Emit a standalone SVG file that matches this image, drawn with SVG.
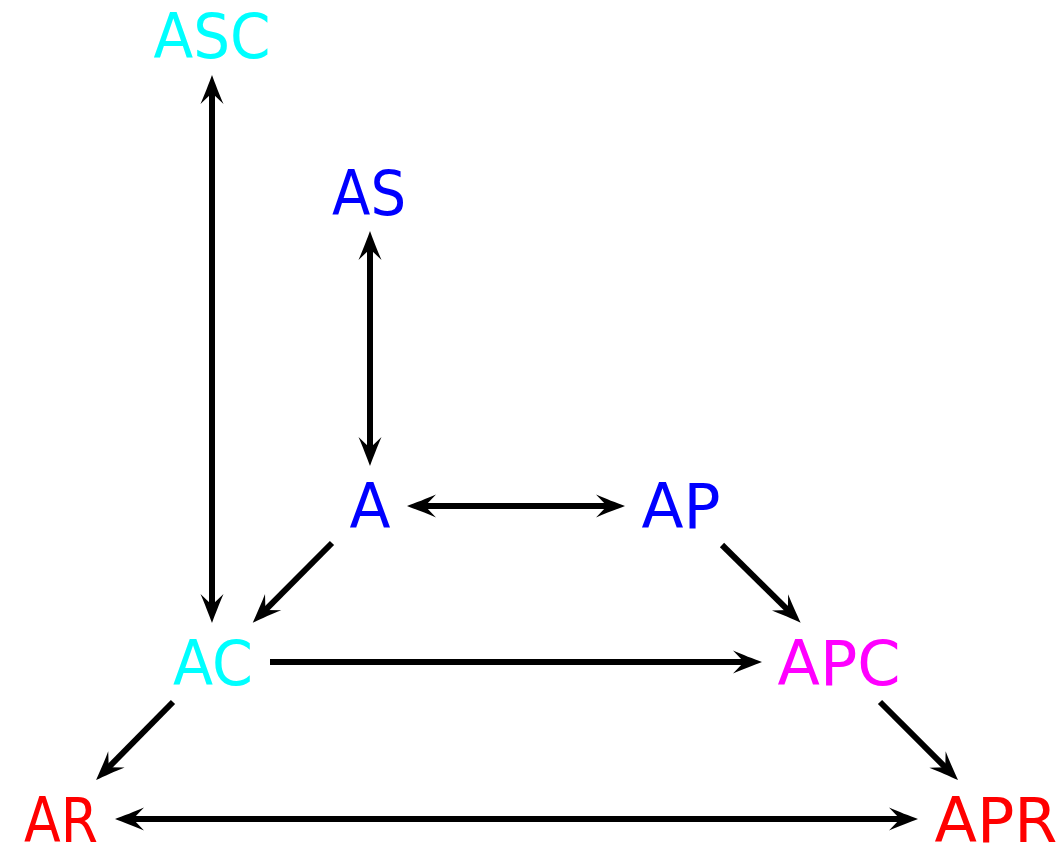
<svg xmlns="http://www.w3.org/2000/svg" width="1064" height="848" viewBox="0 0 1064 848">
<style>
text{font-family:"DejaVu Sans","Liberation Sans",sans-serif;font-size:62px;text-anchor:middle}
.cy{fill:#00ffff}.bl{fill:#0000ff}.mg{fill:#ff00ff}.rd{fill:#ff0000}
.e{stroke:#000;stroke-width:6;fill:none;marker-end:url(#ah)}
.b{marker-start:url(#ah)}
</style>
<defs>
<marker id="ah" markerUnits="userSpaceOnUse" orient="auto-start-reverse" refX="0" refY="0" markerWidth="50" markerHeight="30" overflow="visible" viewBox="-20 -15 50 30">
<path d="M15,0 C7,3 -5,7.5 -14,11.5 L-3,0 L-14,-11.5 C-5,-7.5 7,-3 15,0 Z" fill="#000"/>
</marker>
</defs>
<rect width="1064" height="848" fill="#fff"/>
<g id="edges">
<line class="e b" x1="212" y1="90" x2="212" y2="608"/>
<line class="e b" x1="370" y1="246" x2="370" y2="451"/>
<line class="e b" x1="422" y1="506" x2="610" y2="506"/>
<line class="e" x1="332" y1="543" x2="263.3" y2="612.1"/>
<line class="e" x1="722" y1="545" x2="790" y2="612.2"/>
<line class="e" x1="270" y1="662" x2="747" y2="662"/>
<line class="e" x1="173" y1="702" x2="106.6" y2="769.4"/>
<line class="e" x1="880" y1="702" x2="947.4" y2="769.4"/>
<line class="e b" x1="130" y1="819" x2="903" y2="819"/>
</g>
<g id="ASC"><text class="cy" x="212" y="58" textLength="117" lengthAdjust="spacingAndGlyphs">ASC</text></g>
<g id="AS"><text class="bl" x="369" y="215" textLength="74" lengthAdjust="spacingAndGlyphs">AS</text></g>
<g id="A"><text class="bl" x="370" y="528" textLength="41" lengthAdjust="spacingAndGlyphs">A</text></g>
<g id="AP"><text class="bl" x="681" y="528" textLength="79" lengthAdjust="spacingAndGlyphs">AP</text></g>
<g id="AC"><text class="cy" x="213" y="685" textLength="80" lengthAdjust="spacingAndGlyphs">AC</text></g>
<g id="APC"><text class="mg" x="839" y="685" textLength="123" lengthAdjust="spacingAndGlyphs">APC</text></g>
<g id="AR"><text class="rd" x="61" y="842" textLength="74" lengthAdjust="spacingAndGlyphs">AR</text></g>
<g id="APR"><text class="rd" x="996" y="842" textLength="123" lengthAdjust="spacingAndGlyphs">APR</text></g>
</svg>
